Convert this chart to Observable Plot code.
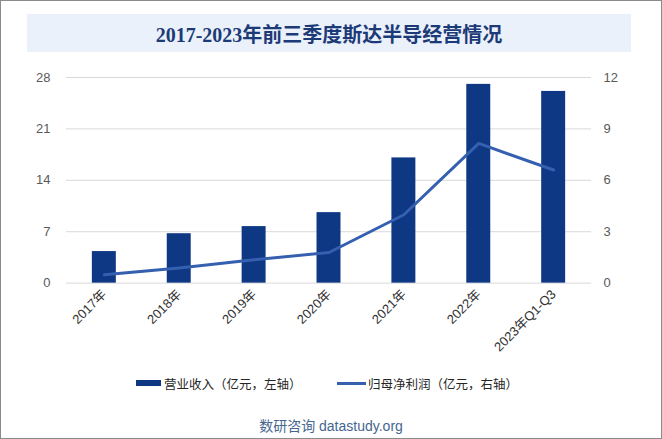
<!DOCTYPE html>
<html><head><meta charset="utf-8">
<script src="https://cdn.jsdelivr.net/npm/d3@7"></script>
<script src="https://cdn.jsdelivr.net/npm/@observablehq/plot@0.6"></script>
<style>
html,body{margin:0;padding:0;background:#fff;}
#wrap{position:relative;width:660px;height:437px;border:1px solid #8a8a8a;background:#fff;overflow:hidden;font-family:"Liberation Sans","Noto Sans CJK SC",sans-serif;}
#title{position:absolute;left:26px;top:13px;width:604px;height:38px;background:#eaf1fb;color:#1d3a78;font:bold 20px "Liberation Serif","Noto Sans CJK SC",serif;display:flex;align-items:center;justify-content:center;}
#chart{position:absolute;left:-1px;top:55px;}
#legend{position:absolute;top:374px;left:0;width:660px;font-size:12.5px;color:#262626;}
.li{position:absolute;top:0;display:flex;align-items:center;height:16px;white-space:nowrap;}
#caption{position:absolute;top:414px;left:0;width:660px;text-align:center;font-size:14px;color:#45668f;}
</style></head>
<body>
<div id="wrap">
  <div id="title">2017-2023年前三季度斯达半导经营情况</div>
  <div id="chart"></div>
  <div id="legend">
    <div class="li" style="left:135px"><span style="display:inline-block;width:25px;height:6px;background:#0e3784;margin-right:3px"></span>营业收入（亿元，左轴）</div>
    <div class="li" style="left:336px"><span style="display:inline-block;width:29px;height:3px;background:#3560b0;margin-right:2px"></span>归母净利润（亿元，右轴）</div>
  </div>
  <div id="caption">数研咨询 datastudy.org</div>
</div>
<script>
const categories = ["2017年","2018年","2019年","2020年","2021年","2022年","2023年Q1-Q3"];
const revenue = [4.3, 6.73, 7.7, 9.6, 17.05, 27.06, 26.1];
const profit = [0.49, 0.89, 1.36, 1.79, 3.99, 8.15, 6.6];
const leftTicks = [0, 7, 14, 21, 28];
const rightTicks = [0, 3, 6, 9, 12];

const leftMax = 28, rightMax = 12;
const k = leftMax / rightMax;
const rows = categories.map((c, i) => ({cat: c, revenue: revenue[i], profit: profit[i]}));

const plot = Plot.plot({
  width: 662,
  height: 310,
  marginTop: 21,
  marginBottom: 83,
  marginLeft: 66,
  marginRight: 70,
  style: {fontFamily: "Liberation Sans, Noto Sans CJK SC, sans-serif", fontSize: "13px", color: "#595959", background: "transparent"},
  x: {domain: categories, paddingInner: 0.68, paddingOuter: 0.34, label: null},
  y: {domain: [0, leftMax], label: null},
  marks: [
    Plot.ruleY(leftTicks, {stroke: "#d9d9d9", strokeWidth: 1}),
    Plot.barY(rows, {x: "cat", y: "revenue", fill: "#0e3784"}),
    Plot.line(rows, {x: "cat", y: d => d.profit * k, stroke: "#3560b0", strokeWidth: 3, strokeLinejoin: "round"}),
    Plot.axisY({ticks: leftTicks, anchor: "left", tickSize: 0, tickPadding: 16, fontSize: 13, label: null}),
    Plot.axisY({ticks: rightTicks.map(v => v * k), anchor: "right", tickSize: 0, tickPadding: 12, fontSize: 13, textAnchor: "start", tickFormat: v => String(Math.round(v / k)), label: null}),
    Plot.axisX({tickSize: 0, tickPadding: 9, tickRotate: -45, fontSize: 13, label: null, fill: "#333333"})
  ]
});
document.getElementById("chart").appendChild(plot);
</script>
</body></html>
